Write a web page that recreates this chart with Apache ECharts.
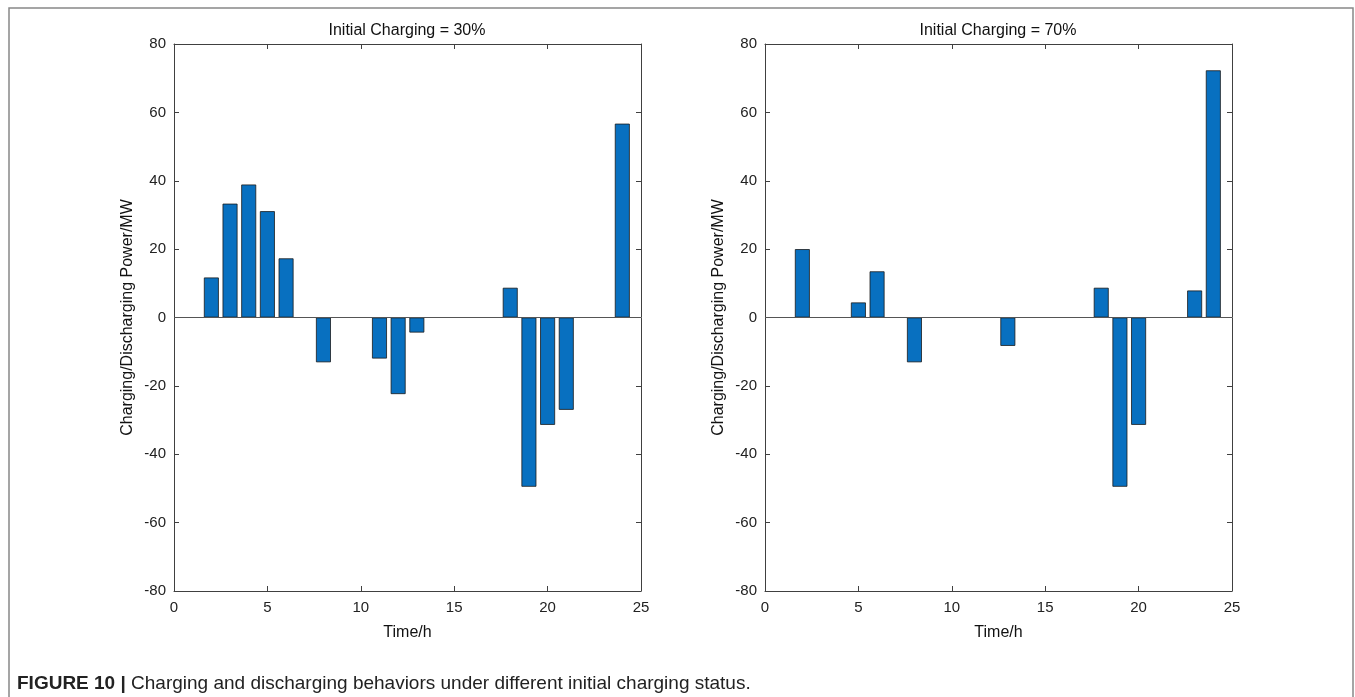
<!DOCTYPE html>
<html>
<head>
<meta charset="utf-8">
<script src="https://cdn.jsdelivr.net/npm/echarts@6/dist/echarts.min.js"></script>
<style>html,body{margin:0;padding:0;background:#fff}#c{width:1355px;height:697px}</style>
</head>
<body>
<div id="c"></div>
<script>
// Data
const hoursLeft  = [2, 3, 4, 5, 6, 8, 11, 12, 13, 18, 19, 20, 21, 24];
const powerLeft  = [11.7, 33.3, 38.9, 31.1, 17.3, -13.1, -12.0, -22.4, -4.4, 8.7, -49.5, -31.4, -27.0, 56.7];
const hoursRight = [2, 5, 6, 8, 13, 18, 19, 20, 23, 24];
const powerRight = [20.0, 4.4, 13.5, -13.1, -8.3, 8.7, -49.5, -31.4, 7.9, 72.3];
const titles = ['Initial Charging = 30%', 'Initial Charging = 70%'];
const xName = 'Time/h';
const yName = 'Charging/Discharging Power/MW';
const xTicks = {min: 0, max: 25, interval: 5};
const yTicks = {min: -80, max: 80, interval: 20};
const captionBold = 'FIGURE 10 |';
const captionText = ' Charging and discharging behaviors under different initial charging status.';

const FONT = '"Liberation Sans", Arial, Helvetica, sans-serif';
const AX = '#404040';
const grids = [
  {left: 174, top: 44, width: 467, height: 547},
  {left: 765, top: 44, width: 467, height: 547}
];

function pairs(xs, ys){ return xs.map((x,i)=>[x, ys[i]]); }

const xAxes = [], yAxes = [], series = [];
grids.forEach((g, gi) => {
  const common = {gridIndex: gi, min: xTicks.min, max: xTicks.max, interval: xTicks.interval, splitLine:{show:false},
    axisLine:{show:true, onZero:false, lineStyle:{color:AX, width:1}},
    axisTick:{show:true, inside:true, length:5, lineStyle:{color:AX}}};
  xAxes.push(Object.assign({type:'value', position:'bottom', name:xName, nameLocation:'middle', nameGap:34,
    nameTextStyle:{fontFamily:FONT, fontSize:16, color:'#111'},
    axisLabel:{fontFamily:FONT, fontSize:15, color:'#222', margin:9}}, common));
  xAxes.push(Object.assign({type:'value', position:'top', axisLabel:{show:false}}, common));
  const ycommon = {gridIndex: gi, min: yTicks.min, max: yTicks.max, interval: yTicks.interval, splitLine:{show:false},
    axisLine:{show:true, onZero:false, lineStyle:{color:AX, width:1}},
    axisTick:{show:true, inside:true, length:5, lineStyle:{color:AX}}};
  yAxes.push(Object.assign({type:'value', position:'left', name:yName, nameLocation:'middle', nameGap:38, nameRotate:90,
    nameTextStyle:{fontFamily:FONT, fontSize:16, color:'#111'},
    axisLabel:{fontFamily:FONT, fontSize:15, color:'#222', margin:8}}, ycommon));
  yAxes.push(Object.assign({type:'value', position:'right', axisLabel:{show:false}}, ycommon));
  series.push({
    type:'bar', xAxisIndex: gi*2, yAxisIndex: gi*2, barWidth:'80%',
    data: gi === 0 ? pairs(hoursLeft, powerLeft) : pairs(hoursRight, powerRight),
    itemStyle:{color:'#0870c0', borderColor:'#1a1a1a', borderWidth:0.8},
    silent:true,
    markLine:{silent:true, symbol:'none', label:{show:false},
      lineStyle:{color:'#555', width:1, type:'solid'}, data:[{yAxis:0}]}
  });
});

const graphics = [
  {type:'rect', shape:{x:9, y:8, width:1344, height:720}, style:{fill:'none', stroke:'#888', lineWidth:1.5}, silent:true},
  {type:'text', x:407, y:31, style:{text:titles[0], font:'16px ' + FONT, fill:'#111', textAlign:'center', textVerticalAlign:'middle'}},
  {type:'text', x:998, y:31, style:{text:titles[1], font:'16px ' + FONT, fill:'#111', textAlign:'center', textVerticalAlign:'middle'}},
  {type:'text', x:17, y:684, style:{
    text:'{b|' + captionBold + '}{n|' + captionText + '}',
    textVerticalAlign:'middle',
    rich:{
      b:{fontFamily:FONT, fontSize:19, fontWeight:'bold', fill:'#222'},
      n:{fontFamily:FONT, fontSize:19, fill:'#222'}
    }}}
];

const chart = echarts.init(document.getElementById('c'), null, {renderer:'canvas'});
chart.setOption({
  animation:false,
  backgroundColor:'#fff',
  grid: grids,
  xAxis: xAxes,
  yAxis: yAxes,
  series: series,
  graphic: graphics
});
</script>
</body>
</html>
